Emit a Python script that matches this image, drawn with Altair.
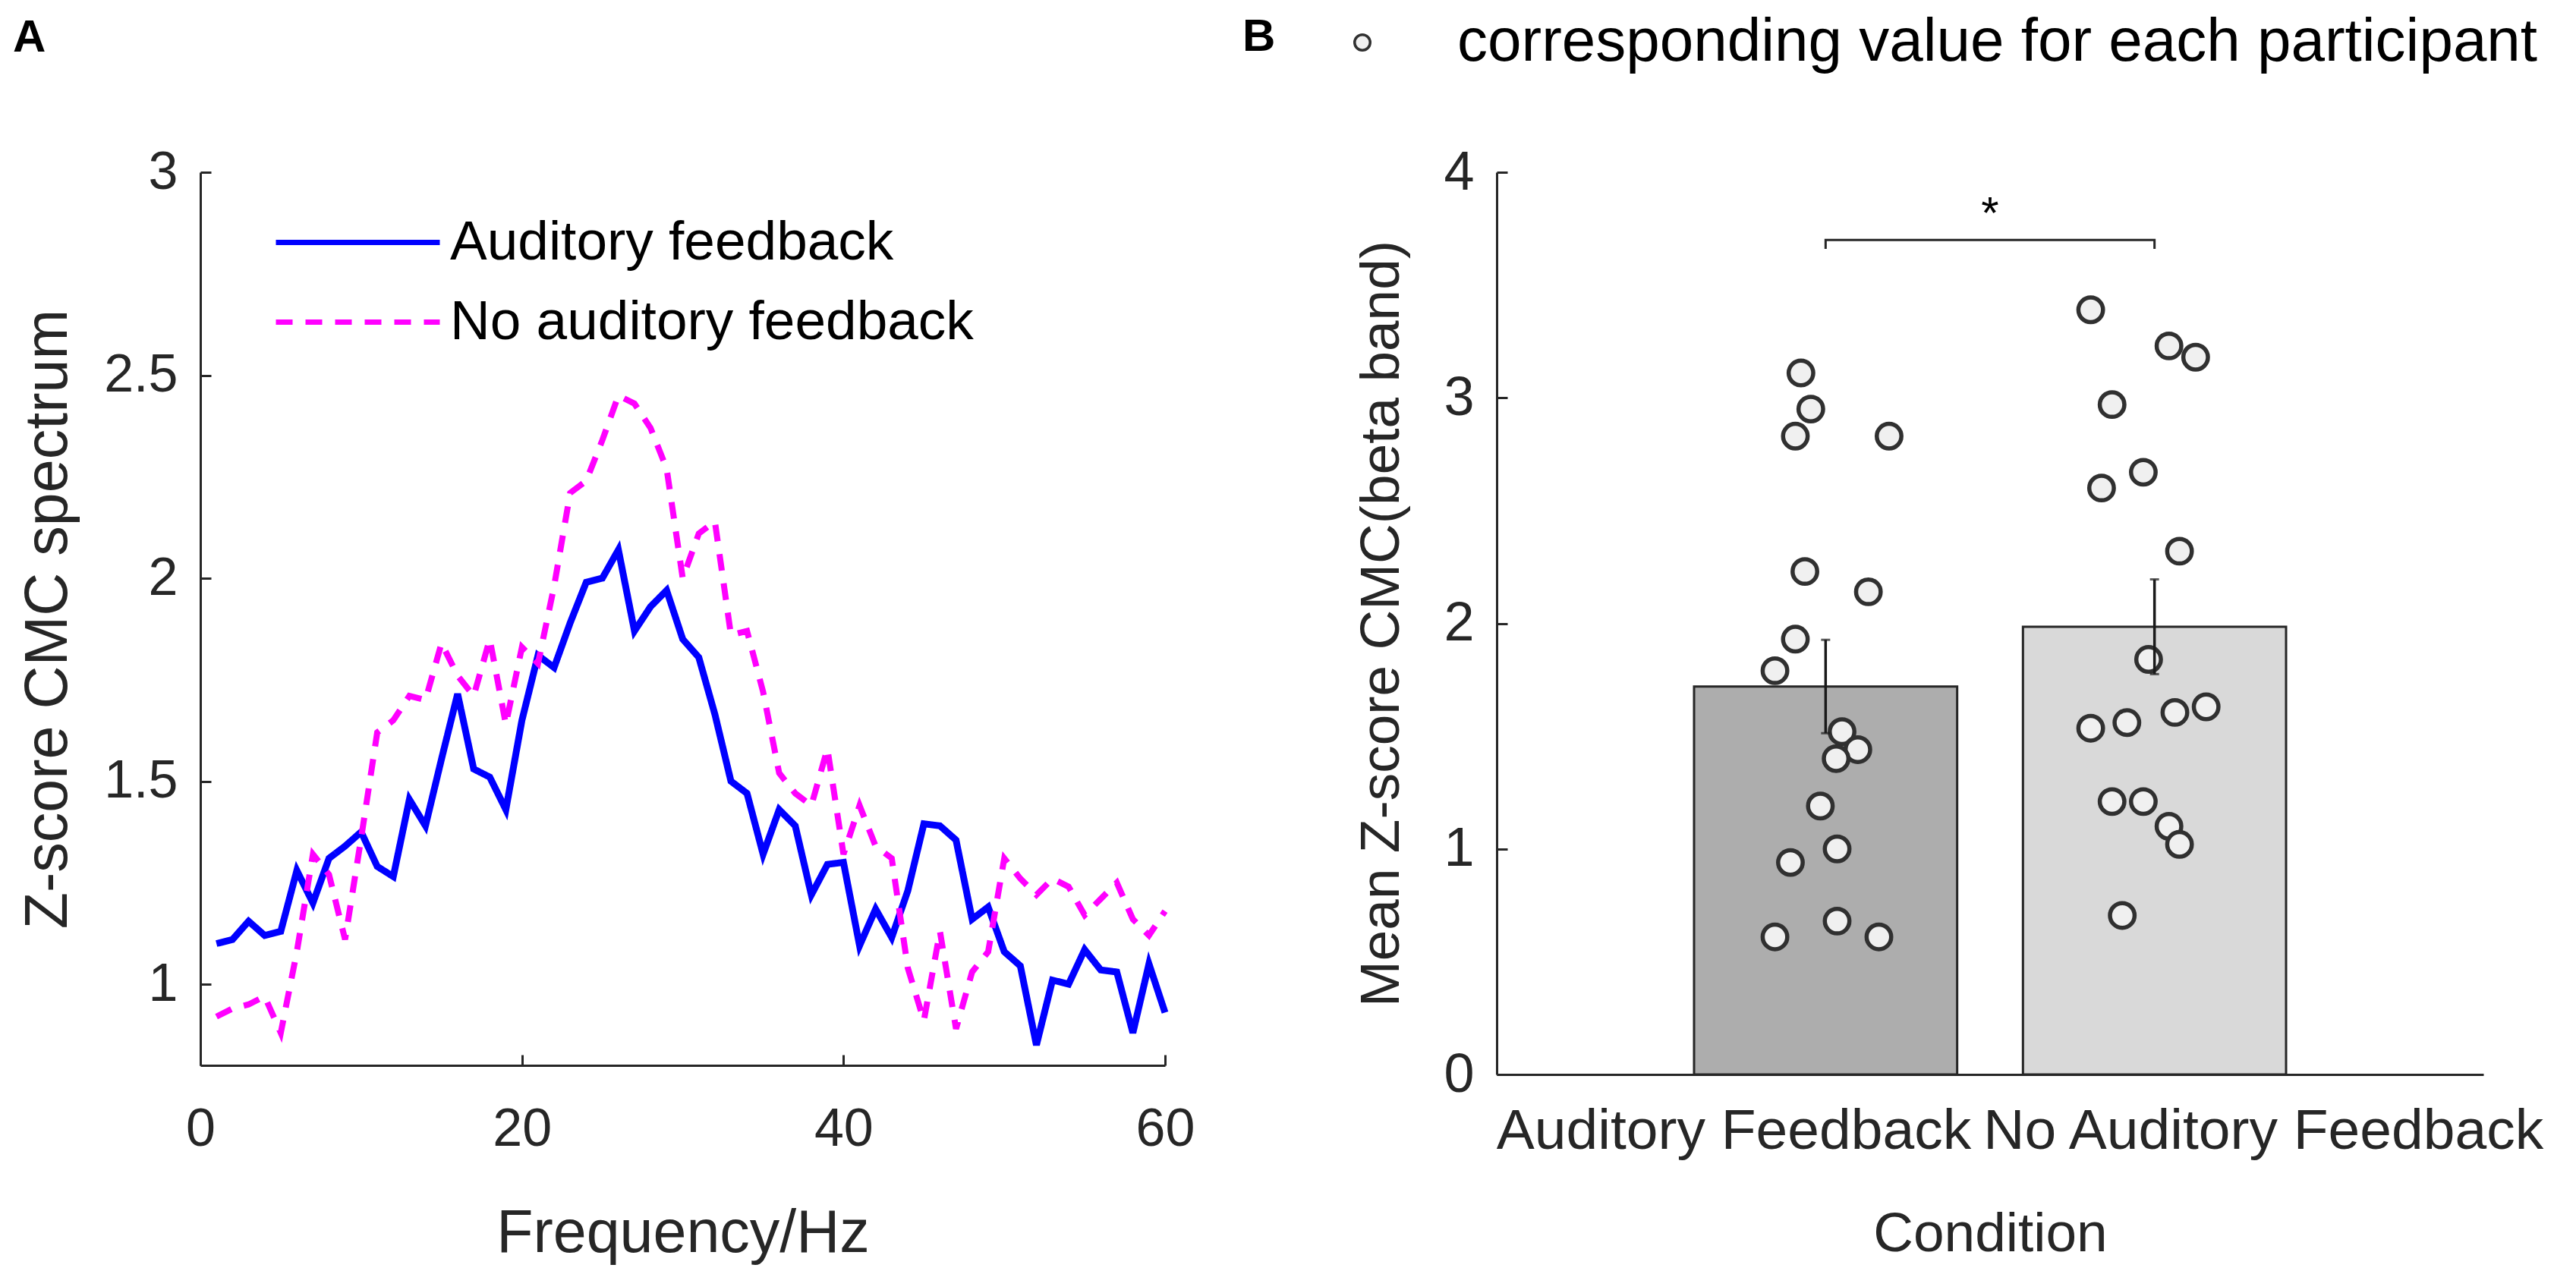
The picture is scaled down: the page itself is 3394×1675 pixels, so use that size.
import altair as alt
import pandas as pd

# ---------------- data ----------------
freq = list(range(1, 61))
auditory = [1.10, 1.11, 1.155, 1.12, 1.13, 1.28, 1.20, 1.31, 1.34, 1.375,
            1.29, 1.265, 1.455, 1.39, 1.555, 1.715, 1.53, 1.51, 1.43, 1.65,
            1.81, 1.78, 1.89, 1.99, 2.00, 2.07, 1.87, 1.93, 1.97, 1.85,
            1.805, 1.665, 1.50, 1.47, 1.32, 1.43, 1.39, 1.22, 1.295, 1.30,
            1.095, 1.185, 1.115, 1.23, 1.395, 1.39, 1.355, 1.16, 1.19, 1.08,
            1.045, 0.85, 1.01, 1.00, 1.085, 1.035, 1.03, 0.88, 1.05, 0.93]
no_auditory = [0.92, 0.94, 0.95, 0.97, 0.88, 1.08, 1.32, 1.27, 1.11, 1.36,
               1.62, 1.65, 1.71, 1.70, 1.84, 1.76, 1.71, 1.85, 1.64, 1.83,
               1.79, 1.98, 2.21, 2.24, 2.34, 2.45, 2.43, 2.37, 2.27, 2.00,
               2.11, 2.14, 1.86, 1.87, 1.72, 1.52, 1.47, 1.44, 1.58, 1.32,
               1.44, 1.34, 1.31, 1.04, 0.91, 1.13, 0.89, 1.03, 1.08, 1.31,
               1.26, 1.22, 1.26, 1.24, 1.17, 1.21, 1.25, 1.16, 1.12, 1.18]
series_names = ["Auditory feedback", "No auditory feedback"]

conditions = ["Auditory Feedback", "No Auditory Feedback"]
cond_pos = [1, 2]
means = [1.72, 1.985]
sems = [0.207, 0.21]
af_values = [3.11, 2.95, 2.83, 2.83, 2.23, 2.14, 1.93, 1.79, 1.52, 1.44,
             1.40, 1.19, 1.00, 0.94, 0.68, 0.61, 0.61]
af_jitter = [-0.075, -0.045, -0.092, 0.193, -0.063, 0.130, -0.092, -0.154,
             0.050, 0.098, 0.032, -0.016, 0.035, -0.107, 0.035, -0.154, 0.162]
naf_values = [3.39, 3.23, 3.18, 2.97, 2.67, 2.60, 2.32, 1.84, 1.63, 1.605,
              1.56, 1.535, 1.21, 1.21, 1.10, 1.02, 0.705]
naf_jitter = [-0.194, 0.044, 0.125, -0.129, -0.034, -0.161, 0.076, -0.018,
              0.157, 0.062, -0.084, -0.194, -0.129, -0.034, 0.044, 0.076, -0.098]
participant_label = "corresponding value for each participant"
bracket_x = [1, 1, 2, 2]
bracket_y = [3.66, 3.70, 3.70, 3.66]
star_x = [1.5]
star_y = [3.81]
cond_label_pos = [0.72, 2.33]

# ---------------- style ----------------
FONT = "Liberation Sans"
AX = "#262626"
TICK_LEN = 14

# ---------------- left panel ----------------
df_line = pd.DataFrame({
    "freq": freq * 2,
    "value": auditory + no_auditory,
    "series": [series_names[0]] * len(freq) + [series_names[1]] * len(freq),
})

xs_l = alt.Scale(domain=[0, 60], nice=False, zero=False)
ys_l = alt.Scale(domain=[0.8, 3.0], nice=False, zero=False)

leg_l = alt.Legend(
    title=None, orient="none", legendX=171, legendY=56, padding=0,
    symbolType="M-5,0L5,0", symbolSize=1866, symbolStrokeWidth=7,
    labelFontSize=73, labelFont=FONT, labelColor="black",
    labelOffset=85, rowPadding=31, labelLimit=0,
)
color_l = alt.Color("series:N", scale=alt.Scale(domain=series_names, range=["#0000ff", "#ff00ff"]), legend=leg_l)
dash_l = alt.StrokeDash("series:N", scale=alt.Scale(domain=series_names, range=[[1, 0], [22, 17]]), legend=leg_l)

main_x_l = alt.Axis(values=[0, 20, 40, 60], ticks=False, domainColor=AX, domainWidth=3,
                    labelFont=FONT, labelFontSize=70, labelColor=AX, labelPadding=50, labelFlush=False,
                    title="Frequency/Hz", titleFont=FONT, titleFontSize=79,
                    titleFontWeight="normal", titleColor=AX, titlePadding=64, grid=False)
main_y_l = alt.Axis(values=[1, 1.5, 2, 2.5, 3], format="~g", ticks=False, domainColor=AX, domainWidth=3,
                    labelFont=FONT, labelFontSize=70, labelColor=AX, labelPadding=30,
                    title="Z-score CMC spectrum", titleFont=FONT, titleFontSize=79,
                    titleFontWeight="normal", titleColor=AX, titlePadding=32, grid=False)
tick_x_l = alt.Axis(values=[0, 20, 40, 60], orient="bottom", offset=-TICK_LEN, domain=False, labels=False,
                    ticks=True, tickSize=TICK_LEN, tickWidth=3, tickColor=AX, title=None, grid=False)
tick_y_l = alt.Axis(values=[1, 1.5, 2, 2.5, 3], orient="left", offset=-TICK_LEN, domain=False, labels=False,
                    ticks=True, tickSize=TICK_LEN, tickWidth=3, tickColor=AX, title=None, grid=False)

base_l = alt.Chart(df_line)
blue = base_l.transform_filter(alt.datum.series == series_names[0]).mark_line(strokeWidth=9).encode(
    x=alt.X("freq:Q", scale=xs_l, axis=main_x_l),
    y=alt.Y("value:Q", scale=ys_l, axis=main_y_l),
    color=color_l, strokeDash=dash_l,
)
magenta = base_l.transform_filter(alt.datum.series == series_names[1]).mark_line(strokeWidth=8).encode(
    x=alt.X("freq:Q", scale=xs_l, axis=tick_x_l),
    y=alt.Y("value:Q", scale=ys_l, axis=tick_y_l),
    color=color_l, strokeDash=dash_l,
)
left = alt.layer(blue, magenta).resolve_axis(x="independent", y="independent").properties(
    width=1271, height=1177,
    title=alt.TitleParams("A", anchor="start", frame="group", dx=-247, dy=-64, offset=0,
                          baseline="alphabetic",
                          fontSize=60, fontWeight="bold", font=FONT, color="black"),
)

# ---------------- right panel ----------------
df_bar = pd.DataFrame({
    "cond": conditions, "pos": cond_pos, "mean": means, "sem": sems,
})
df_bar["x1"] = df_bar["pos"] - 0.4
df_bar["x2"] = df_bar["pos"] + 0.4
df_bar["base"] = 0.0
df_bar["lo"] = df_bar["mean"] - df_bar["sem"]
df_bar["hi"] = df_bar["mean"] + df_bar["sem"]

df_pts = pd.DataFrame({
    "x": [cond_pos[0] + j for j in af_jitter] + [cond_pos[1] + j for j in naf_jitter],
    "value": af_values + naf_values,
    "lab": [participant_label] * (len(af_values) + len(naf_values)),
})
df_br = pd.DataFrame({"x": bracket_x, "y": bracket_y, "o": list(range(len(bracket_x)))})
df_star = pd.DataFrame({"x": star_x, "y": star_y, "t": ["*"]})

xs_r = alt.Scale(domain=[0, 3], nice=False, zero=False)
ys_r = alt.Scale(domain=[0, 4], nice=False, zero=False)

main_x_r = alt.Axis(values=cond_label_pos, ticks=False, domainColor=AX, domainWidth=3,
                    labelExpr="datum.value < 1.5 ? 'Auditory Feedback' : 'No Auditory Feedback'",
                    labelFont=FONT, labelFontSize=75, labelColor=AX, labelPadding=38,
                    labelOverlap=False, labelLimit=0, labelFlush=False,
                    title="Condition", titleFont=FONT, titleFontSize=73,
                    titleFontWeight="normal", titleColor=AX, titlePadding=62, grid=False)
main_y_r = alt.Axis(values=[0, 1, 2, 3, 4], ticks=False, domainColor=AX, domainWidth=3,
                    labelFont=FONT, labelFontSize=72, labelColor=AX, labelPadding=30,
                    title="Mean Z-score CMC(beta band)", titleFont=FONT, titleFontSize=73,
                    titleFontWeight="normal", titleColor=AX, titlePadding=44, grid=False)
tick_x_r = alt.Axis(values=cond_pos, orient="bottom", offset=-TICK_LEN, domain=False, labels=False,
                    ticks=True, tickSize=TICK_LEN, tickWidth=3, tickColor=AX, title=None, grid=False)
tick_y_r = alt.Axis(values=[0, 1, 2, 3, 4], orient="left", offset=-TICK_LEN, domain=False, labels=False,
                    ticks=True, tickSize=TICK_LEN, tickWidth=3, tickColor=AX, title=None, grid=False)

bars = alt.Chart(df_bar).mark_bar(stroke=AX, strokeWidth=3).encode(
    x=alt.X("x1:Q", scale=xs_r, axis=main_x_r), x2="x2:Q",
    y=alt.Y("base:Q", scale=ys_r, axis=main_y_r), y2="mean:Q",
    color=alt.Color("cond:N", scale=alt.Scale(domain=conditions, range=["#adadad", "#d9d9d9"]), legend=None),
)
pts = alt.Chart(df_pts).mark_point(filled=True, shape="circle", size=1050, stroke="#303030",
                                   strokeWidth=5.5, opacity=1).encode(
    x=alt.X("x:Q", scale=xs_r, axis=tick_x_r),
    y=alt.Y("value:Q", scale=ys_r, axis=tick_y_r),
    fill=alt.Fill("lab:N", scale=alt.Scale(range=["#f0f0f0"]),
                  legend=alt.Legend(title=None, orient="none", legendX=-217, legendY=-211, padding=0,
                                    symbolType="circle", symbolSize=420, symbolStrokeColor="#303030",
                                    symbolStrokeWidth=3.5, symbolFillColor="#f0f0f0",
                                    labelFontSize=80, labelFont=FONT, labelColor="black",
                                    labelOffset=85, labelLimit=0)),
)
err = alt.Chart(df_bar).mark_rule(color="#1a1a1a", strokeWidth=3.5).encode(
    x=alt.X("pos:Q", scale=xs_r, axis=None),
    y=alt.Y("lo:Q", scale=ys_r, axis=None), y2="hi:Q",
)
cap_hi = alt.Chart(df_bar).mark_tick(orient="horizontal", size=12, thickness=3, color="#1a1a1a").encode(
    x=alt.X("pos:Q", scale=xs_r, axis=None), y=alt.Y("hi:Q", scale=ys_r, axis=None))
cap_lo = alt.Chart(df_bar).mark_tick(orient="horizontal", size=12, thickness=3, color="#1a1a1a").encode(
    x=alt.X("pos:Q", scale=xs_r, axis=None), y=alt.Y("lo:Q", scale=ys_r, axis=None))
bracket = alt.Chart(df_br).mark_line(color=AX, strokeWidth=3).encode(
    x=alt.X("x:Q", scale=xs_r, axis=None), y=alt.Y("y:Q", scale=ys_r, axis=None), order="o:Q")
star = alt.Chart(df_star).mark_text(fontSize=60, font=FONT, color="black", baseline="middle").encode(
    x=alt.X("x:Q", scale=xs_r, axis=None), y=alt.Y("y:Q", scale=ys_r, axis=None), text="t:N")

right = alt.layer(bars, pts, err, cap_hi, cap_lo, bracket, star).resolve_axis(
    x="independent", y="independent").properties(
    width=1300, height=1189,
    title=alt.TitleParams("B", anchor="start", frame="group", dx=-335, dy=111, offset=0,
                          baseline="alphabetic",
                          fontSize=60, fontWeight="bold", font=FONT, color="black"),
)

chart = alt.hconcat(left, right, spacing=437, bounds="flush").resolve_scale(
    color="independent", strokeDash="independent", fill="independent"
).resolve_legend(
    color="independent", strokeDash="independent", fill="independent"
).properties(
    padding={"left": 9, "top": 8, "right": 8, "bottom": 8},
    background="white",
).configure_view(stroke=None)

chart.save("out.html", embed_options={"renderer": "svg", "actions": False})
